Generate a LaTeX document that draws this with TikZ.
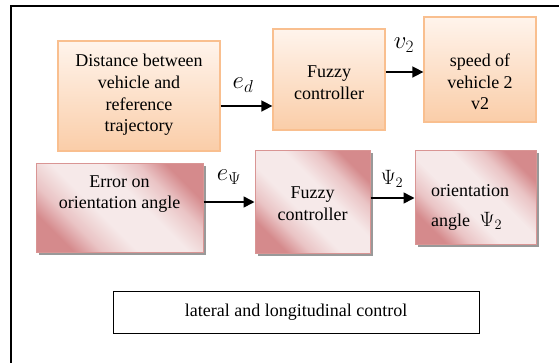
\documentclass[tikz,border=0pt]{standalone}
\usepackage{fontspec}
\setmainfont{Liberation Serif}
\newfontfamily\tnrfont{Liberation Serif}
\usetikzlibrary{arrows.meta,shadows}

\definecolor{orborder}{HTML}{F9BF8F}
\definecolor{ortop}{HTML}{FFF4EC}
\definecolor{orbot}{HTML}{FACDA8}
\definecolor{pkdark}{HTML}{D58A8C}
\definecolor{pkmid}{HTML}{EAC4C5}
\definecolor{pklight}{HTML}{F6E9E9}
\definecolor{pkborder}{HTML}{D99594}

% dark corners on one diagonal, light band through the middle
\pgfdeclarehorizontalshading{pinkdiag}{100bp}{color(0bp)=(pkdark); color(25bp)=(pkdark); color(33bp)=(pkmid); color(43bp)=(pklight); color(57bp)=(pklight); color(67bp)=(pkmid); color(75bp)=(pkdark); color(100bp)=(pkdark)}

\tikzset{
  txt/.style={font=\tnrfont\fontsize{18}{21.7}\selectfont, align=center, inner sep=0pt},
  orbox/.style={draw=orborder, line width=1.3pt, top color=ortop, bottom color=orbot,
                inner sep=0pt},
  pkbox/.style={draw=pkborder, line width=1pt, shading=pinkdiag, shading angle=45,
                inner sep=0pt,
                drop shadow={shadow xshift=3pt, shadow yshift=-3pt, fill=black!40, opacity=1}},
  plainbox/.style={draw=black, line width=0.9pt, fill=white, inner sep=0pt},
  arr/.style={line width=1.6pt, -{Triangle[length=11pt,width=11pt]}},
  lbl/.style={font=\fontsize{24}{26}\selectfont, inner sep=0pt},
  lblpsi/.style={font=\fontsize{22}{24}\selectfont, inner sep=0pt},
}

\begin{document}
\begin{tikzpicture}[x=1pt,y=-1pt]
  \useasboundingbox (0,0) rectangle (559,362);
  \clip (0,0) rectangle (559,362);
  \fill[white] (0,0) rectangle (559,362);

  % outer frame (continues past the right and bottom edges)
  \draw[line width=2pt] (11,380) -- (11,6) -- (580,6);

  % upper chain: distance -> fuzzy -> speed
  \node[orbox, minimum width=162pt, minimum height=110pt] (dist) at (139,96) {};
  \node[txt] (distT) at (139,95) {Distance between\\vehicle and\\reference\\trajectory};
  \node[orbox, minimum width=112pt, minimum height=101pt] (fz1) at (329,79.5) {};
  \node[txt] (fz1T) at (329,83) {Fuzzy\\controller};
  \node[orbox, minimum width=112pt, minimum height=105pt] (spd) at (480,69.5) {};
  \node[txt] (spdT) at (480,82) {speed of\\vehicle 2\\v2};

  % lower chain: angle error -> fuzzy -> orientation
  \node[pkbox, minimum width=167pt, minimum height=89pt] (err) at (119.5,207.5) {};
  \node[txt] (errT) at (119.5,194) {Error on\\orientation angle};
  \node[pkbox, minimum width=115pt, minimum height=103pt] (fz2) at (312.5,201.5) {};
  \node[txt] (fz2T) at (312.5,204) {Fuzzy\\controller};
  \node[pkbox, minimum width=121pt, minimum height=94pt] (ori) at (475.5,197) {};
  \node[txt, align=left, anchor=west, font=\tnrfont\fontsize{18}{30}\selectfont] (oriT) at (431,207)
       {orientation\\angle\; {\fontsize{22}{24}\selectfont$\Psi_2$}};

  % caption box
  \node[plainbox, minimum width=366pt, minimum height=42pt] (cap) at (296,312) {};
  \node[txt] (capT) at (296,312) {lateral and longitudinal control};

  % connectors
  \coordinate (y1) at (0,106);
  \coordinate (y2) at (0,72);
  \coordinate (y3) at (0,202);
  \coordinate (y4) at (0,198);
  \draw[arr] (dist.east |- y1) -- (fz1.west |- y1);
  \draw[arr] (fz1.east |- y2) -- (spd.west |- y2);
  \draw[arr] (err.east |- y3) -- (fz2.west |- y3);
  \draw[arr] (fz2.east |- y4) -- (ori.west |- y4);

  % signal labels
  \node[lbl] (ed) at (243,85) {$e_d$};
  \node[lbl] (v2) at (404,45) {$v_2$};
  \node[lbl] (epsi) at (229,177) {$e_\Psi$};
  \node[lblpsi] (psi2) at (392,179) {$\Psi_2$};
\end{tikzpicture}
\end{document}
